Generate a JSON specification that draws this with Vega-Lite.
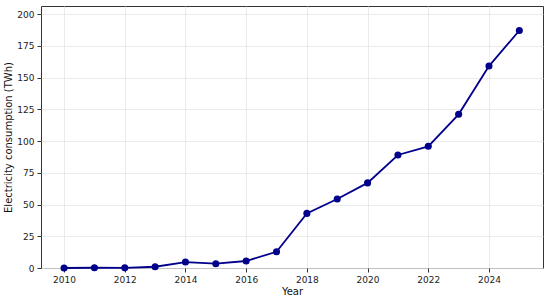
{
  "$schema": "https://vega.github.io/schema/vega-lite/v6.json",
  "width": 502,
  "height": 262,
  "autosize": {"type": "none"},
  "padding": {"left": 41, "top": 6, "right": 7, "bottom": 33},
  "background": "white",
  "config": {
    "font": "DejaVu Sans",
    "view": {"stroke": "#333333", "strokeWidth": 1},
    "axis": {
      "labelFont": "DejaVu Sans",
      "titleFont": "DejaVu Sans",
      "labelFontSize": 9,
      "titleFontSize": 10,
      "titleFontWeight": "normal",
      "labelColor": "#222222",
      "titleColor": "#111111",
      "gridColor": "#e6e6e6",
      "gridWidth": 0.8,
      "domain": false,
      "tickColor": "#333333",
      "tickSize": 4,
      "labelPadding": 3
    }
  },
  "data": {
    "values": [
      {"year": 2010, "twh": 0.0},
      {"year": 2011, "twh": 0.2},
      {"year": 2012, "twh": 0.1},
      {"year": 2013, "twh": 1.0},
      {"year": 2014, "twh": 4.7},
      {"year": 2015, "twh": 3.4},
      {"year": 2016, "twh": 5.5},
      {"year": 2017, "twh": 12.8},
      {"year": 2018, "twh": 43.0},
      {"year": 2019, "twh": 54.3},
      {"year": 2020, "twh": 67.0},
      {"year": 2021, "twh": 89.0},
      {"year": 2022, "twh": 95.8},
      {"year": 2023, "twh": 121.0},
      {"year": 2024, "twh": 159.0},
      {"year": 2025, "twh": 187.0}
    ]
  },
  "encoding": {
    "x": {
      "field": "year",
      "type": "quantitative",
      "scale": {"domain": [2009.24, 2025.78], "nice": false, "zero": false},
      "axis": {"values": [2010, 2012, 2014, 2016, 2018, 2020, 2022, 2024], "format": "d", "title": "Year", "titlePadding": 2}
    },
    "y": {
      "field": "twh",
      "type": "quantitative",
      "scale": {"domain": [0, 206.3], "nice": false},
      "axis": {"values": [0, 25, 50, 75, 100, 125, 150, 175, 200], "title": "Electricity consumption (TWh)", "titlePadding": 3}
    }
  },
  "layer": [
    {"mark": {"type": "line", "color": "#00008B", "strokeWidth": 1.8}},
    {"mark": {"type": "point", "filled": true, "color": "#00008B", "size": 50, "opacity": 1}}
  ]
}
